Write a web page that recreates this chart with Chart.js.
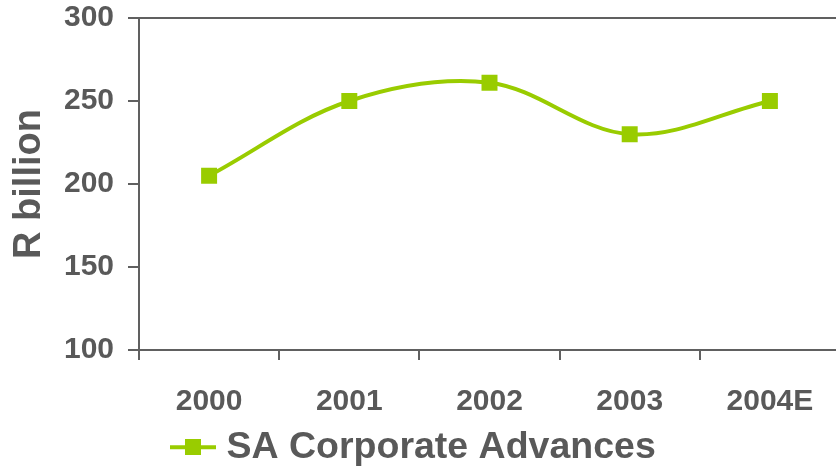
<!DOCTYPE html>
<html>
<head>
<meta charset="utf-8">
<script src="https://cdn.jsdelivr.net/npm/chart.js@4.4.1/dist/chart.umd.min.js"></script>
<style>
html,body{margin:0;padding:0;background:#fff;overflow:hidden;}
canvas{display:block;}
</style>
</head>
<body>
<canvas id="c" width="846" height="467"></canvas>
<script>
const categories = ['2000', '2001', '2002', '2003', '2004E'];
const seriesName = 'SA Corporate Advances';
const advances = [205, 250, 261, 230, 250];
const yTicks = [100, 150, 200, 250, 300];

const GREEN = '#99CC00';
const GREY = '#595959';
const AXIS = '#606060';
const FONT = '"Liberation Sans", Arial, sans-serif';
const PAD_BOTTOM = -9;
const PAD_LEFT = -14;
const PAD_RIGHT = 6;

// legend marker: line with square (content in right part of the image)
const mk = document.createElement('canvas');
mk.width = 54; mk.height = 16;
(function(){
  const g = mk.getContext('2d');
  g.fillStyle = GREEN;
  g.fillRect(8, 6, 46, 4);
  g.fillRect(23, 0, 16, 16);
})();

new Chart(document.getElementById('c'), {
  type: 'line',
  data: {
    labels: categories,
    datasets: [{
      label: seriesName,
      data: advances,
      borderColor: GREEN,
      backgroundColor: GREEN,
      borderWidth: 4,
      tension: 0.35,
      pointStyle: 'rect',
      pointRadius: 11.3,
      pointHoverRadius: 11.3,
      pointBorderWidth: 0
    }]
  },
  options: {
    responsive: false,
    animation: false,
    layout: {
      autoPadding: false,
      padding: { top: 18, right: PAD_RIGHT, bottom: PAD_BOTTOM, left: PAD_LEFT }
    },
    plugins: {
      tooltip: { enabled: false },
      legend: {
        position: 'bottom',
        labels: {
          usePointStyle: true,
          color: GREY,
          font: { family: FONT, size: 37.5, weight: 'bold' },
          padding: 4,
          generateLabels: (chart) => [{
            text: seriesName,
            pointStyle: mk,
            fillStyle: GREEN,
            strokeStyle: GREEN,
            lineWidth: 0,
            hidden: false,
            datasetIndex: 0,
            fontColor: GREY
          }]
        }
      }
    },
    scales: {
      x: {
        offset: true,
        grid: {
          offset: true,
          color: 'rgba(0,0,0,0)',
          tickColor: AXIS,
          tickLength: 10,
          lineWidth: 2
        },
        border: { display: true, color: AXIS, width: 2 },
        ticks: {
          color: GREY,
          padding: 24,
          maxRotation: 0,
          font: { family: FONT, size: 30, weight: 'bold' }
        },
        afterFit: (s) => {
          const lg = s.chart.legend;
          const lh = lg ? lg.height : 50;
          s.height = 467 - 350 - lh - PAD_BOTTOM;
          s.paddingLeft = 0;
          s.paddingRight = 0;
        }
      },
      y: {
        min: 100,
        max: 300,
        afterBuildTicks: (s) => { s.ticks = yTicks.map(v => ({ value: v })); },
        grid: {
          color: (ctx) => (ctx.tick && ctx.tick.value === 300) ? AXIS : 'rgba(0,0,0,0)',
          tickColor: AXIS,
          tickLength: 11,
          lineWidth: 2
        },
        border: { display: true, color: AXIS, width: 2 },
        ticks: {
          color: GREY,
          padding: 14,
          font: { family: FONT, size: 30, weight: 'bold' }
        },
        title: {
          display: true,
          text: 'R billion',
          color: GREY,
          padding: { top: 7 - PAD_LEFT, bottom: 8 },
          font: { family: FONT, size: 38, weight: 'bold' }
        },
        afterFit: (s) => {
          s.width = 139 - PAD_LEFT;
          s.paddingTop = 0;
          s.paddingBottom = 0;
        }
      }
    }
  }
});
</script>
</body>
</html>
